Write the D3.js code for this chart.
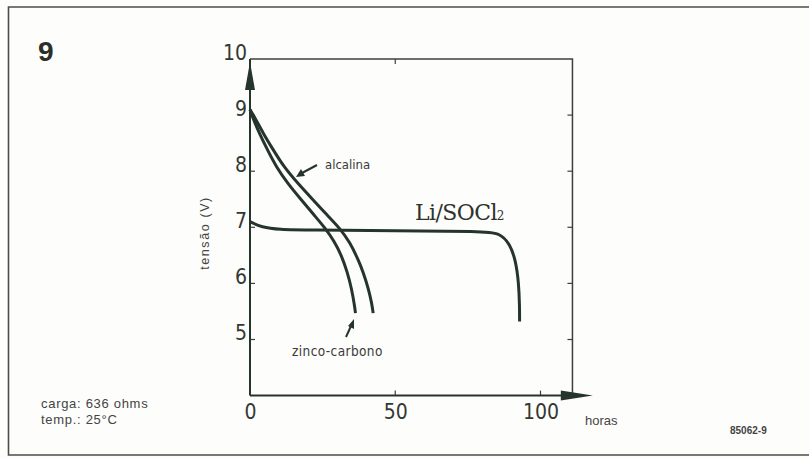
<!DOCTYPE html>
<html><head><meta charset="utf-8">
<script src="https://cdn.jsdelivr.net/npm/d3@7"></script>
<style>
html,body{margin:0;padding:0;background:#fdfdfb;}
svg{display:block;}
</style></head>
<body>
<svg id="chart" width="809" height="459"></svg>
<script>
// ---- data ----
const xTicks = [0, 50, 100];
const yTicks = [5, 6, 7, 8, 9, 10];
const zincHours  = [0, 1, 3, 6, 9, 13, 17.5, 22, 26, 29, 31.5, 33.5, 35, 36, 36.3];
const zincVolts  = [9.1, 8.95, 8.7, 8.38, 8.08, 7.78, 7.5, 7.22, 6.98, 6.75, 6.5, 6.2, 5.9, 5.6, 5.47];
const alkHours   = [0, 1.5, 4.5, 8, 11.6, 16.5, 21.5, 26.5, 31, 34.5, 37, 39, 40.8, 41.9, 42.4];
const alkVolts   = [9.1, 8.97, 8.68, 8.38, 8.08, 7.78, 7.5, 7.22, 6.98, 6.72, 6.45, 6.2, 5.9, 5.65, 5.47];
const liHours    = [0, 4, 10, 20, 50, 80, 86, 89.5, 91.5, 92.5, 92.8, 92.8];
const liVolts    = [7.1, 7.0, 6.96, 6.95, 6.94, 6.93, 6.9, 6.7, 6.4, 6.0, 5.6, 5.32];

const svg = d3.select("#chart");
const ink = "#26352b";
const frame = "#3b413a";
const tickFont = "'DejaVu Sans Condensed','Liberation Sans',sans-serif";
const sans = "'Liberation Sans',Arial,sans-serif";

// outer frame
svg.append("path").attr("d","M809,7 H8.5 V455 H809").attr("fill","none")
  .attr("stroke","#4a4f47").attr("stroke-width",1.6);

const x = d3.scaleLinear().domain([0,100]).range([250,540.5]);
const y = d3.scaleLinear().domain([4,10]).range([395.6,59]);
const xMaxBox = 111;

// plot box
svg.append("path")
  .attr("d",`M${x(0)},${y(10)} H${x(xMaxBox)} V${y(4)}`)
  .attr("fill","none").attr("stroke",frame).attr("stroke-width",1.5);

// axes
const gx = svg.append("g").attr("transform",`translate(0,${y(4)})`)
  .call(d3.axisBottom(x).tickValues(xTicks).tickFormat(d3.format("d")).tickSize(0).tickPadding(8));
gx.select(".domain").remove();
gx.selectAll("text").attr("font-family",tickFont).attr("font-weight",300)
  .attr("font-size",21).attr("fill","#333833").attr("dy","0.71em");

const gy = svg.append("g").attr("transform",`translate(${x(0)},0)`)
  .call(d3.axisLeft(y).tickValues(yTicks).tickFormat(d3.format("d")).tickSize(0).tickPadding(3));
gy.select(".domain").remove();
gy.selectAll("text").attr("font-family",tickFont).attr("font-weight",300)
  .attr("font-size",21).attr("fill","#333833").attr("dy","0");

// inward tick marks
const tk = svg.append("g").attr("stroke",frame).attr("stroke-width",1.2);
[5,6,7,8,9].forEach(v=>{
  tk.append("line").attr("x1",x(0)).attr("x2",x(0)+5).attr("y1",y(v)).attr("y2",y(v));
  tk.append("line").attr("x1",x(xMaxBox)).attr("x2",x(xMaxBox)-5).attr("y1",y(v)).attr("y2",y(v));
});
[50,100].forEach(h=>{
  tk.append("line").attr("x1",x(h)).attr("x2",x(h)).attr("y1",y(4)).attr("y2",y(4)-5);
});
tk.append("line").attr("x1",x(50)).attr("x2",x(50)).attr("y1",y(10)).attr("y2",y(10)+5);

// axis lines with arrows
svg.append("line").attr("x1",x(0)).attr("x2",x(0)).attr("y1",y(10)).attr("y2",y(4))
  .attr("stroke",ink).attr("stroke-width",2);
svg.append("line").attr("x1",x(0)).attr("x2",x(112)).attr("y1",y(4)).attr("y2",y(4))
  .attr("stroke",ink).attr("stroke-width",2);
svg.append("path")
  .attr("d",`M${x(0)},${y(10)+3} L${x(0)+5},${y(10)+31} L${x(0)-5},${y(10)+31} Z`)
  .attr("fill",ink);
svg.append("path")
  .attr("d",`M${x(118)},${y(4)} L${x(107)},${y(4)-5} L${x(107)},${y(4)+5} Z`)
  .attr("fill",ink);

// curves
const line = d3.line().x(d=>x(d[0])).y(d=>y(d[1])).curve(d3.curveBasis);
const series = [
  d3.zip(zincHours, zincVolts),
  d3.zip(alkHours, alkVolts),
  d3.zip(liHours, liVolts)
];
svg.append("g").selectAll("path").data(series).join("path")
  .attr("d",line).attr("fill","none").attr("stroke",ink)
  .attr("stroke-width",3).attr("stroke-linecap","butt");

// labels
svg.append("text").attr("x",38).attr("y",61).text("9")
  .attr("font-family",sans).attr("font-weight","bold")
  .attr("font-size",28).attr("fill","#2a2f2a");

svg.append("text").attr("transform","translate(209,233) rotate(-90)")
  .attr("text-anchor","middle").attr("font-family",sans)
  .attr("font-size",12.5).attr("fill","#444").attr("letter-spacing",1.6).text("tensão (V)");

svg.append("text").attr("x",325).attr("y",169).text("alcalina")
  .attr("font-family",tickFont).attr("font-size",13).attr("fill","#3a3a3a");
svg.append("line").attr("x1",317).attr("y1",165).attr("x2",302).attr("y2",173)
  .attr("stroke",ink).attr("stroke-width",2);
svg.append("path").attr("d","M296,177 L301,169 L305,176 Z").attr("fill",ink);

svg.append("text").attr("x",292).attr("y",356).text("zinco-carbono")
  .attr("font-family",tickFont).attr("font-size",13.5).attr("fill","#3a3a3a").attr("letter-spacing",0.4);
svg.append("line").attr("x1",346).attr("y1",337).attr("x2",351).attr("y2",326)
  .attr("stroke",ink).attr("stroke-width",2);
svg.append("path").attr("d","M354,319 L354,329 L348,326 Z").attr("fill",ink);

const li = svg.append("text").attr("x",415).attr("y",220)
  .attr("font-family","'DejaVu Serif','Liberation Serif',serif")
  .attr("font-size",22).attr("fill","#2e332e").attr("letter-spacing",-0.6);
li.append("tspan").text("Li/SOCl");
li.append("tspan").attr("font-size",12).text("2");

svg.append("text").attr("x",41).attr("y",408).text("carga: 636 ohms")
  .attr("font-family",sans).attr("font-size",13).attr("fill","#444").attr("letter-spacing",0.7);
svg.append("text").attr("x",41).attr("y",424).text("temp.: 25°C")
  .attr("font-family",sans).attr("font-size",13).attr("fill","#444").attr("letter-spacing",0.7);
svg.append("text").attr("x",585).attr("y",425).text("horas")
  .attr("font-family",sans).attr("font-size",13).attr("fill","#444");
svg.append("text").attr("x",730).attr("y",434).text("85062-9")
  .attr("font-family",sans).attr("font-weight","bold")
  .attr("font-size",10).attr("fill","#444");
</script>
</body></html>
